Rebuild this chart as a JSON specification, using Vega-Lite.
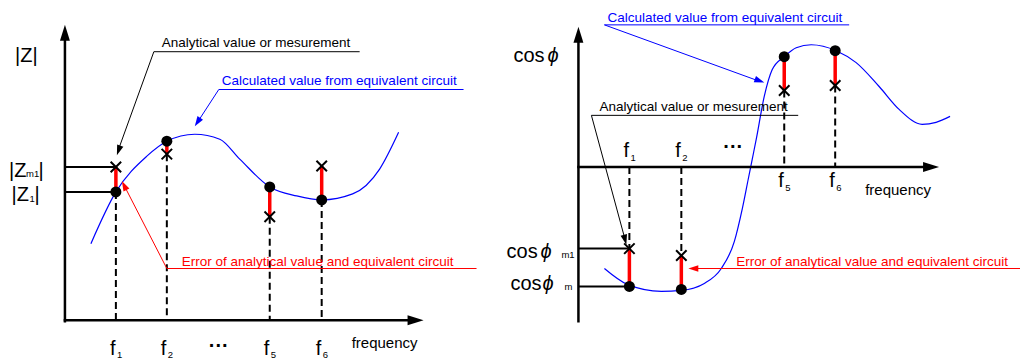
{
  "$schema": "https://vega.github.io/schema/vega-lite/v6.json",
  "width": 1022,
  "height": 360,
  "autosize": {"type": "fit", "contains": "padding"},
  "padding": 0,
  "background": "white",
  "config": {"view": {"stroke": null}, "font": "Liberation Sans"},
  "datasets": {
    "axes": [
      {"panel": "Z", "x": 65, "y": 323, "x2": 65, "y2": 38},
      {"panel": "Z", "x": 65, "y": 322, "x2": 412, "y2": 322},
      {"panel": "cos", "x": 579, "y": 323, "x2": 579, "y2": 40},
      {"panel": "cos", "x": 579, "y": 168, "x2": 928, "y2": 168}
    ],
    "axisHeads": [
      {"x": 65, "y": 25, "heading": 0},
      {"x": 424, "y": 322, "heading": 90},
      {"x": 579, "y": 27, "heading": 0},
      {"x": 940, "y": 168, "heading": 90}
    ],
    "leaders": [
      {"x": 65, "x2": 116, "y": 168},
      {"x": 65, "x2": 116, "y": 193},
      {"x": 579, "x2": 630, "y": 250},
      {"x": 579, "x2": 630, "y": 288}
    ],
    "drops": [
      {"x": 116, "y": 193, "y2": 322},
      {"x": 167, "y": 155, "y2": 322},
      {"x": 270, "y": 218, "y2": 322},
      {"x": 322, "y": 201, "y2": 322},
      {"x": 630, "y": 168, "y2": 250},
      {"x": 682, "y": 168, "y2": 257},
      {"x": 785, "y": 91, "y2": 168},
      {"x": 836, "y": 86, "y2": 168}
    ],
    "samples": [
      {"panel": "Z", "f": "f1", "x": 116, "calc": 193, "meas": 168},
      {"panel": "Z", "f": "f2", "x": 167, "calc": 142, "meas": 155},
      {"panel": "Z", "f": "f5", "x": 270, "calc": 188, "meas": 218},
      {"panel": "Z", "f": "f6", "x": 322, "calc": 201, "meas": 167},
      {"panel": "cos", "f": "f1", "x": 630, "calc": 288, "meas": 250},
      {"panel": "cos", "f": "f2", "x": 682, "calc": 291, "meas": 257},
      {"panel": "cos", "f": "f5", "x": 785, "calc": 57, "meas": 91},
      {"panel": "cos", "f": "f6", "x": 836, "calc": 51, "meas": 86}
    ],
    "curves": [
      {"panel": "Z", "x": 91, "y": 245},
      {"panel": "Z", "x": 116, "y": 193},
      {"panel": "Z", "x": 147, "y": 157},
      {"panel": "Z", "x": 167, "y": 142},
      {"panel": "Z", "x": 195, "y": 135},
      {"panel": "Z", "x": 220, "y": 140},
      {"panel": "Z", "x": 240, "y": 160},
      {"panel": "Z", "x": 270, "y": 188},
      {"panel": "Z", "x": 297, "y": 197},
      {"panel": "Z", "x": 322, "y": 201},
      {"panel": "Z", "x": 353, "y": 195},
      {"panel": "Z", "x": 380, "y": 170},
      {"panel": "Z", "x": 399, "y": 133},
      {"panel": "cos", "x": 605, "y": 270},
      {"panel": "cos", "x": 628, "y": 286},
      {"panel": "cos", "x": 662, "y": 293},
      {"panel": "cos", "x": 682, "y": 292},
      {"panel": "cos", "x": 705, "y": 285},
      {"panel": "cos", "x": 722, "y": 270},
      {"panel": "cos", "x": 735, "y": 243},
      {"panel": "cos", "x": 743, "y": 210},
      {"panel": "cos", "x": 749, "y": 180},
      {"panel": "cos", "x": 753, "y": 160},
      {"panel": "cos", "x": 757, "y": 140},
      {"panel": "cos", "x": 765, "y": 97},
      {"panel": "cos", "x": 773, "y": 70},
      {"panel": "cos", "x": 785, "y": 57},
      {"panel": "cos", "x": 797, "y": 48},
      {"panel": "cos", "x": 812, "y": 45},
      {"panel": "cos", "x": 837, "y": 51},
      {"panel": "cos", "x": 857, "y": 63},
      {"panel": "cos", "x": 880, "y": 87},
      {"panel": "cos", "x": 900, "y": 110},
      {"panel": "cos", "x": 923, "y": 125},
      {"panel": "cos", "x": 937, "y": 123},
      {"panel": "cos", "x": 951, "y": 117}
    ],
    "callouts": [
      {"id": "a1", "kind": "measured", "step": 1, "x": 360, "y": 52},
      {"id": "a1", "kind": "measured", "step": 2, "x": 154, "y": 52},
      {"id": "a1", "kind": "measured", "step": 3, "x": 118, "y": 152},
      {"id": "b1", "kind": "model", "step": 1, "x": 464, "y": 90},
      {"id": "b1", "kind": "model", "step": 2, "x": 219, "y": 90},
      {"id": "b1", "kind": "model", "step": 3, "x": 197, "y": 124},
      {"id": "e1", "kind": "error", "step": 1, "x": 477, "y": 270},
      {"id": "e1", "kind": "error", "step": 2, "x": 167, "y": 270},
      {"id": "e1", "kind": "error", "step": 3, "x": 124, "y": 186},
      {"id": "b2", "kind": "model", "step": 1, "x": 850, "y": 25},
      {"id": "b2", "kind": "model", "step": 2, "x": 605, "y": 25},
      {"id": "b2", "kind": "model", "step": 3, "x": 761, "y": 82},
      {"id": "a2", "kind": "measured", "step": 1, "x": 799, "y": 116},
      {"id": "a2", "kind": "measured", "step": 2, "x": 592, "y": 116},
      {"id": "a2", "kind": "measured", "step": 3, "x": 626, "y": 242},
      {"id": "e2", "kind": "error", "step": 1, "x": 1021, "y": 270},
      {"id": "e2", "kind": "error", "step": 2, "x": 693, "y": 270}
    ],
    "heads": [
      {"kind": "measured", "x": 117, "y": 156, "heading": 199.6},
      {"kind": "model", "x": 195, "y": 127, "heading": 213},
      {"kind": "error", "x": 122, "y": 182, "heading": 332.9},
      {"kind": "model", "x": 765, "y": 83, "heading": 109.9},
      {"kind": "measured", "x": 627, "y": 246, "heading": 164.9},
      {"kind": "error", "x": 689, "y": 270, "heading": 270}
    ],
    "bigText": [
      {"text": "|Z|", "x": 15, "y": 62},
      {"text": "|Z", "x": 9, "y": 178},
      {"text": "|", "x": 38.5, "y": 178},
      {"text": "|Z", "x": 11.5, "y": 202},
      {"text": "|", "x": 34.5, "y": 202},
      {"text": "f", "x": 110, "y": 357},
      {"text": "f", "x": 161, "y": 357},
      {"text": "f", "x": 264, "y": 357},
      {"text": "f", "x": 316, "y": 357},
      {"text": "cos", "x": 514, "y": 62},
      {"text": "cos", "x": 507, "y": 259},
      {"text": "cos", "x": 511, "y": 292},
      {"text": "f", "x": 624, "y": 158},
      {"text": "f", "x": 676, "y": 158},
      {"text": "f", "x": 779, "y": 188},
      {"text": "f", "x": 830, "y": 188}
    ],
    "ellipses": [
      {"text": "···", "x": 209, "y": 354},
      {"text": "···", "x": 724, "y": 154}
    ],
    "greek": [
      {"text": "ϕ", "x": 548, "y": 62},
      {"text": "ϕ", "x": 541, "y": 259},
      {"text": "ϕ", "x": 543, "y": 292}
    ],
    "subText": [
      {"text": "m1", "x": 26, "y": 178},
      {"text": "1", "x": 29.5, "y": 203},
      {"text": "1", "x": 117, "y": 360},
      {"text": "2", "x": 168, "y": 360},
      {"text": "5", "x": 271, "y": 360},
      {"text": "6", "x": 323, "y": 360},
      {"text": "m1", "x": 562, "y": 259},
      {"text": "m", "x": 565, "y": 292},
      {"text": "1", "x": 631, "y": 162},
      {"text": "2", "x": 683, "y": 162},
      {"text": "5", "x": 786, "y": 192},
      {"text": "6", "x": 837, "y": 192}
    ],
    "axisTitles": [
      {"text": "frequency", "x": 352, "y": 350},
      {"text": "frequency", "x": 866, "y": 196}
    ],
    "notes": [
      {"kind": "measured", "text": "Analytical value or mesurement", "x": 162, "y": 47},
      {"kind": "model", "text": "Calculated value from equivalent circuit", "x": 222, "y": 85},
      {"kind": "error", "text": "Error of analytical value and equivalent circuit", "x": 182, "y": 267},
      {"kind": "model", "text": "Calculated value from equivalent circuit", "x": 608, "y": 22},
      {"kind": "measured", "text": "Analytical value or mesurement", "x": 600, "y": 112},
      {"kind": "error", "text": "Error of analytical value and equivalent circuit", "x": 737, "y": 267}
    ]
  },
  "encoding": {
    "x": {"field": "x", "type": "quantitative", "scale": {"domain": [0, 1022], "nice": false, "zero": false}, "axis": null},
    "y": {"field": "y", "type": "quantitative", "scale": {"domain": [0, 360], "reverse": true, "nice": false, "zero": false}, "axis": null}
  },
  "layer": [
    {
      "data": {"name": "curves"},
      "mark": {"type": "line", "interpolate": "monotone", "color": "#0000ff", "strokeWidth": 1.2},
      "encoding": {"detail": {"field": "panel"}}
    },
    {
      "data": {"name": "axes"},
      "mark": {"type": "rule", "color": "black", "strokeWidth": 2.5, "strokeCap": "square"},
      "encoding": {"x2": {"field": "x2"}, "y2": {"field": "y2"}}
    },
    {
      "data": {"name": "axisHeads"},
      "mark": {"type": "point", "shape": "M0,0L-0.31,1L0.31,1Z", "filled": true, "color": "black", "opacity": 1, "size": 1024, "strokeWidth": 0},
      "encoding": {"angle": {"field": "heading", "type": "quantitative", "scale": null}}
    },
    {
      "data": {"name": "leaders"},
      "mark": {"type": "rule", "color": "black", "strokeWidth": 2},
      "encoding": {"x2": {"field": "x2"}}
    },
    {
      "data": {"name": "drops"},
      "mark": {"type": "rule", "color": "black", "strokeWidth": 2, "strokeDash": [7, 4]},
      "encoding": {"y2": {"field": "y2"}}
    },
    {
      "data": {"name": "callouts"},
      "mark": {"type": "line", "strokeWidth": 1},
      "encoding": {
        "detail": {"field": "id"},
        "order": {"field": "step", "type": "quantitative"},
        "color": {"field": "kind", "type": "nominal", "scale": {"domain": ["measured", "model", "error"], "range": ["#000000", "#0000ff", "#ff0000"]}, "legend": null}
      }
    },
    {
      "data": {"name": "heads"},
      "mark": {"type": "point", "shape": "M0,0L-0.33,1L0.33,1Z", "filled": true, "opacity": 1, "size": 400, "strokeWidth": 0},
      "encoding": {
        "angle": {"field": "heading", "type": "quantitative", "scale": null},
        "color": {"field": "kind", "type": "nominal", "scale": {"domain": ["measured", "model", "error"], "range": ["#000000", "#0000ff", "#ff0000"]}, "legend": null}
      }
    },
    {
      "data": {"name": "samples"},
      "mark": {"type": "rule", "color": "#ff0000", "strokeWidth": 3.5},
      "encoding": {
        "y": {"field": "calc", "type": "quantitative", "scale": {"domain": [0, 360], "reverse": true, "nice": false, "zero": false}, "axis": null},
        "y2": {"field": "meas"}
      }
    },
    {
      "data": {"name": "samples"},
      "mark": {"type": "point", "shape": "circle", "filled": true, "color": "black", "opacity": 1, "size": 121},
      "encoding": {
        "y": {"field": "calc", "type": "quantitative", "scale": {"domain": [0, 360], "reverse": true, "nice": false, "zero": false}, "axis": null}
      }
    },
    {
      "data": {"name": "samples"},
      "mark": {"type": "point", "shape": "M-1,-1L1,1M-1,1L1,-1", "filled": false, "color": "black", "opacity": 1, "size": 110, "strokeWidth": 2},
      "encoding": {
        "y": {"field": "meas", "type": "quantitative", "scale": {"domain": [0, 360], "reverse": true, "nice": false, "zero": false}, "axis": null}
      }
    },
    {
      "data": {"name": "bigText"},
      "mark": {"type": "text", "align": "left", "baseline": "alphabetic", "fontSize": 20, "color": "black"},
      "encoding": {"text": {"field": "text"}}
    },
    {
      "data": {"name": "ellipses"},
      "mark": {"type": "text", "align": "left", "baseline": "alphabetic", "fontSize": 20, "fontWeight": "bold", "color": "black"},
      "encoding": {"text": {"field": "text"}}
    },
    {
      "data": {"name": "greek"},
      "mark": {"type": "text", "align": "left", "baseline": "alphabetic", "fontSize": 20, "fontStyle": "italic", "color": "black"},
      "encoding": {"text": {"field": "text"}}
    },
    {
      "data": {"name": "subText"},
      "mark": {"type": "text", "align": "left", "baseline": "alphabetic", "fontSize": 9.5, "color": "black"},
      "encoding": {"text": {"field": "text"}}
    },
    {
      "data": {"name": "axisTitles"},
      "mark": {"type": "text", "align": "left", "baseline": "alphabetic", "fontSize": 15, "color": "black"},
      "encoding": {"text": {"field": "text"}}
    },
    {
      "data": {"name": "notes"},
      "mark": {"type": "text", "align": "left", "baseline": "alphabetic", "fontSize": 13.5},
      "encoding": {
        "text": {"field": "text"},
        "color": {"field": "kind", "type": "nominal", "scale": {"domain": ["measured", "model", "error"], "range": ["#000000", "#0000ff", "#ff0000"]}, "legend": null}
      }
    }
  ]
}
